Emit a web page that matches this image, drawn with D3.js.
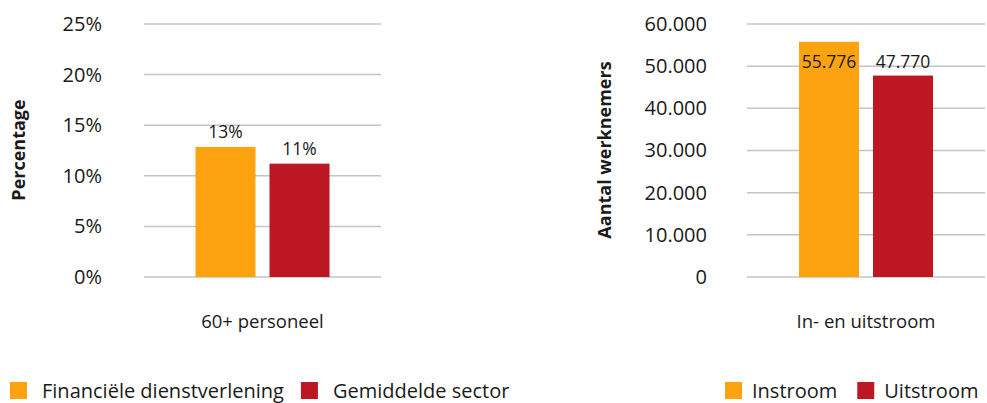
<!DOCTYPE html>
<html>
<head>
<meta charset="utf-8">
<script src="https://cdn.jsdelivr.net/npm/d3@7"></script>
<style>
    body { margin: 0; background: #fff; }
    text { font-family: "Open Sans", sans-serif; fill: #1a1a1a; }
</style>
</head>
<body>
<div id="chart"></div>
<script>
// data
let seriesLeft = ["Financiële dienstverlening", "Gemiddelde sector"];
let valuesLeft = [12.85, 11.2];
let labelsLeft = ["13%", "11%"];
let categoryLeft = "60+ personeel";
let ticksLeft = [0, 5, 10, 15, 20, 25];

let seriesRight = ["Instroom", "Uitstroom"];
let valuesRight = [55776, 47770];
let categoryRight = "In- en uitstroom";
let ticksRight = [0, 10000, 20000, 30000, 40000, 50000, 60000];

let colors = ["#fda30f", "#bd1723"];

let nl = d3.formatLocale({decimal: ",", thousands: ".", grouping: [3], currency: ["", ""]});
let fmtNum = nl.format(",d");

let svg = d3.select("#chart").append("svg")
    .attr("width", 987)
    .attr("height", 403);

function drawPanel(opts) {
    let g = svg.append("g");

    let y = d3.scaleLinear()
        .domain([0, d3.max(opts.ticks)])
        .range([277, 24]);

    let x0 = d3.scaleBand()
        .domain([opts.category])
        .range([opts.left, opts.right])
        .paddingInner(0)
        .paddingOuter(opts.outer);

    let x1 = d3.scaleBand()
        .domain(opts.series)
        .range([0, x0.bandwidth()])
        .paddingInner(0.189);

    // gridlines
    g.selectAll(".grid")
        .data(opts.ticks)
        .enter().append("line")
        .attr("x1", opts.left)
        .attr("x2", opts.right)
        .attr("y1", d => y(d))
        .attr("y2", d => y(d))
        .attr("stroke", "#c4c4c4")
        .attr("stroke-width", 1.5);

    // y axis labels
    let yAxis = d3.axisLeft(y)
        .tickValues(opts.ticks)
        .tickSize(0)
        .tickPadding(0)
        .tickFormat(opts.format);

    let ax = g.append("g")
        .attr("transform", `translate(${opts.tickX},0)`)
        .call(yAxis);
    ax.select(".domain").remove();
    ax.selectAll("text")
        .attr("font-family", "Open Sans")
        .attr("font-size", 20)
        .attr("fill", "#1a1a1a");

    // y title
    g.append("text")
        .attr("transform", `translate(${opts.titleX},150) rotate(-90)`)
        .attr("text-anchor", "middle")
        .attr("dy", "0.35em")
        .attr("font-size", 18)
        .attr("font-weight", "bold")
        .text(opts.title);

    // bars
    g.selectAll(".bar")
        .data(opts.values)
        .enter().append("rect")
        .attr("x", (d, i) => x0(opts.category) + x1(opts.series[i]))
        .attr("y", d => y(d))
        .attr("width", x1.bandwidth())
        .attr("height", d => y(0) - y(d))
        .attr("fill", (d, i) => colors[i]);

    // value labels (pushed down when they would leave the plot area)
    g.selectAll(".lbl")
        .data(opts.values)
        .enter().append("text")
        .attr("x", (d, i) => x0(opts.category) + x1(opts.series[i]) + x1.bandwidth() / 2)
        .attr("y", d => Math.max(y(d) - 9, y.range()[1] + 44))
        .attr("text-anchor", "middle")
        .attr("font-size", 17.5)
        .text((d, i) => opts.labels[i]);

    // category label
    g.append("text")
        .attr("x", x0(opts.category) + x0.bandwidth() / 2)
        .attr("y", 328)
        .attr("text-anchor", "middle")
        .attr("font-size", 18.5)
        .text(opts.category);

    // legend
    let lg = g.append("g").attr("class", "legend");
    let lx = opts.legendX;
    opts.series.forEach((s, i) => {
        lg.append("rect")
            .attr("x", lx)
            .attr("y", 382)
            .attr("width", 17)
            .attr("height", 17)
            .attr("fill", colors[i]);
        let t = lg.append("text")
            .attr("x", lx + 17 + opts.legendGap)
            .attr("y", 398)
            .attr("font-size", 20)
            .text(s);
        lx = lx + 17 + opts.legendGap + t.node().getComputedTextLength() + opts.legendSpace;
    });
}

drawPanel({
    left: 144, right: 381, outer: 0.384, tickX: 102, titleX: 19,
    title: "Percentage", category: categoryLeft,
    series: seriesLeft, values: valuesLeft, labels: labelsLeft,
    ticks: ticksLeft, format: d => d + "%",
    legendX: 10, legendGap: 15, legendSpace: 17
});

drawPanel({
    left: 747, right: 985, outer: 0.388, tickX: 707, titleX: 605,
    title: "Aantal werknemers", category: categoryRight,
    series: seriesRight, values: valuesRight, labels: valuesRight.map(fmtNum),
    ticks: ticksRight, format: d => fmtNum(d),
    legendX: 725, legendGap: 10, legendSpace: 20
});
</script>
</body>
</html>
